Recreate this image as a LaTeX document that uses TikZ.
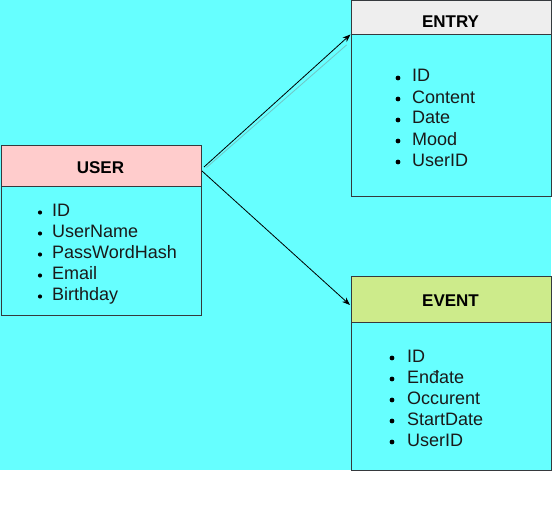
\documentclass[tikz,border=0pt]{standalone}
\usepackage{fontspec}
\setmainfont{Liberation Sans}
\usetikzlibrary{arrows.meta}
\definecolor{bgcyan}{HTML}{66FFFF}
\definecolor{pinkh}{HTML}{FFCCCC}
\definecolor{grayh}{HTML}{EEEEEE}
\definecolor{greenh}{HTML}{CDEB8B}
\definecolor{edgec}{HTML}{36393D}
\definecolor{txt}{HTML}{1A1A1A}
\begin{document}
\begin{tikzpicture}[x=1pt,y=-1pt,
 box/.style={draw=edgec, line width=1pt, anchor=north west, inner sep=0pt},
 title/.style={anchor=base, inner sep=0pt, font=\fontsize{17}{20}\selectfont\bfseries, text=black},
 item/.style={anchor=base west, inner sep=0pt, font=\fontsize{18}{21}\selectfont, text=txt},
 conn/.style={draw=black, line width=0.8pt, -{Stealth[length=8pt,width=6pt]}}]
\path[use as bounding box, fill=white] (0,0) rectangle (559,516);
\fill[bgcyan] (0,0) rectangle (551,470);
% USER
\node[box, fill=pinkh, minimum width=200, minimum height=41] (userh) at (0.5,145) {};
\node[title] (usert) at (100.5,173) {USER};
\node[box, minimum width=200, minimum height=129] (userb) at (0.5,186) {};
% ENTRY
\node[box, fill=grayh, minimum width=200, minimum height=34] (entryh) at (350.5,0.5) {};
\node[title] (entryt) at (450.5,28) {ENTRY};
\node[box, minimum width=200, minimum height=161] (entryb) at (350.5,34.5) {};
% EVENT
\node[box, fill=greenh, minimum width=200, minimum height=46] (eventh) at (350.5,275.5) {};
\node[title] (eventt) at (450.5,306) {EVENT};
\node[box, minimum width=200, minimum height=148.5] (eventb) at (350.5,321.5) {};
% items
\foreach \t [count=\i] in {ID,UserName,PassWordHash,Email,Birthday}{
  \node[item] (u\i) at (52,195+21*\i) {\t};
  \fill[black] (40,191.5+21*\i) circle (2.1);
}
\foreach \t [count=\i] in {ID,Content,Date,Mood,UserID}{
  \node[item] (n\i) at (412,61+21*\i) {\t};
  \fill[black] (398,57+21*\i) circle (2.4);
}
\foreach \t [count=\i] in {ID,Enđate,Occurent,StartDate,UserID}{
  \node[item] (v\i) at (407,341+21*\i) {\t};
  \fill[black] (392,337+21*\i) circle (2.4);
}
% connectors
\coordinate (s1) at (204,167);
\coordinate (s2) at (202,171);
\coordinate (e2) at (350,305);
\coordinate (g1) at (206.5,167.5);
\coordinate (g2) at (346.5,45);
\draw[color=gray!45!bgcyan, line width=0.8pt] (g1) -- (g2);
\draw[conn] (s1) -- (entryb.north west);
\draw[conn] (s2) -- (e2);
\end{tikzpicture}
\end{document}
